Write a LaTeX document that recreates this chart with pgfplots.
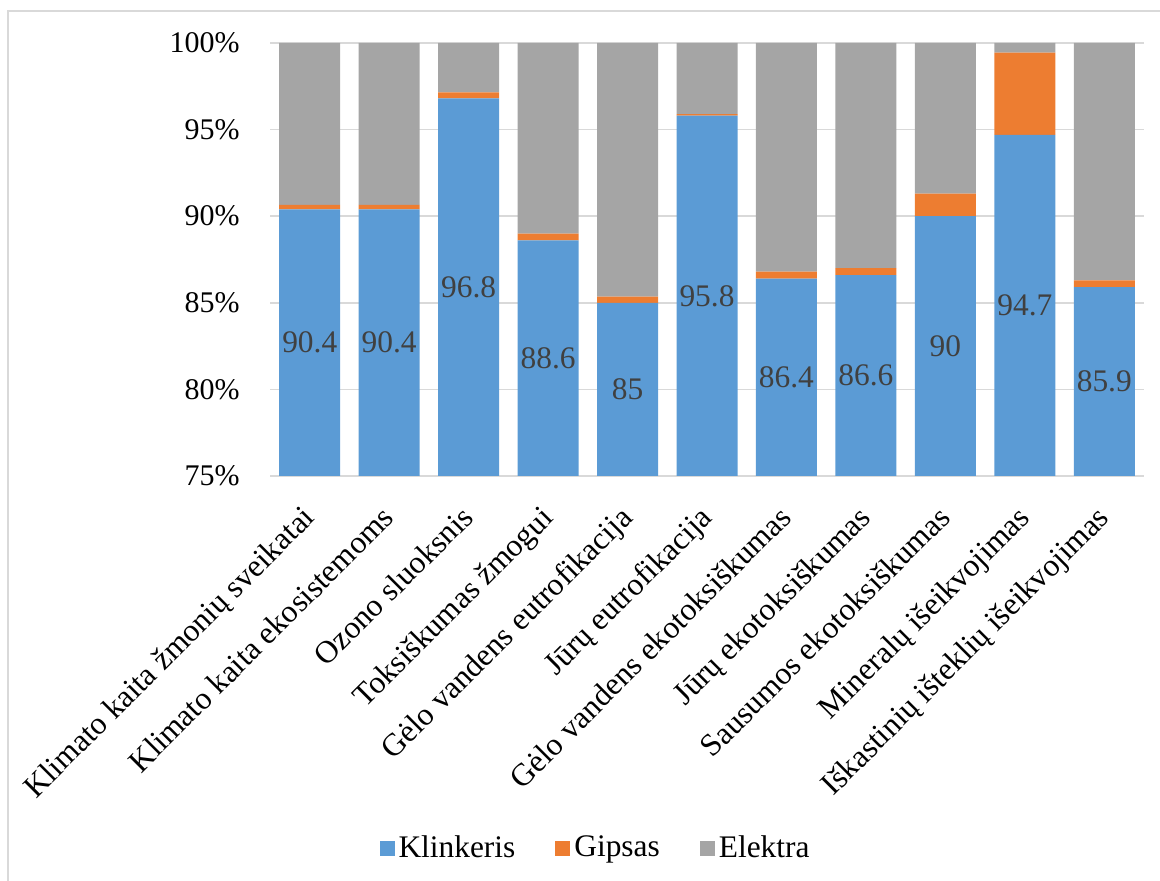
\documentclass[border=0pt]{standalone}
\usepackage{fontspec}
\setmainfont{Liberation Serif}
\usepackage{pgfplots}
\pgfplotsset{compat=1.18}
\definecolor{cK}{HTML}{5B9BD5}
\definecolor{cG}{HTML}{ED7D31}
\definecolor{cE}{HTML}{A5A5A5}
\definecolor{gridc}{HTML}{D9D9D9}
\definecolor{lblc}{HTML}{404040}
\pgfplotsset{
  commonaxis/.style={
    at={(135pt,202.5pt)}, anchor=south west,
    scale only axis, width=437pt, height=216.5pt,
    xmin=-0.5, xmax=10.5, ymin=75, ymax=100,
  }
}
\begin{document}
\fontsize{15pt}{18pt}\selectfont
\begin{tikzpicture}
\useasboundingbox (0pt,0pt) rectangle (580pt,440.5pt);
\draw[gridc, line width=0.75pt] (4pt,-10pt) -- (4pt,435pt) -- (590pt,435pt);
\begin{axis}[
  commonaxis,
  ybar stacked, bar width=30.5pt,
  xtick={0,...,10},
  xticklabels={Klimato kaita žmonių sveikatai, Klimato kaita ekosistemoms, Ozono sluoksnis, Toksiškumas žmogui, Gėlo vandens eutrofikacija, Jūrų eutrofikacija, Gėlo vandens ekotoksiškumas, Jūrų ekotoksiškumas, Sausumos ekotoksiškumas, Mineralų išeikvojimas, Iškastinių išteklių išeikvojimas},
  xticklabel style={rotate=45, anchor=north east, inner sep=0pt, xshift=-13pt, yshift=-6.5pt, font=\fontsize{15.8pt}{18pt}\selectfont},
  ytick={75,80,...,100},
  yticklabel={\pgfmathprintnumber{\tick}\%},
  yticklabel style={anchor=east, inner sep=0pt, xshift=-15pt, font=\fontsize{15pt}{18pt}\selectfont},
  /pgf/number format/assume math mode=true,
  ymajorgrids, grid style={gridc, line width=0.75pt},
  axis line style={draw=none},
  major tick length=0pt,
  legend columns=-1,
  legend style={draw=none, fill=none, at={(0.3736,-0.861)}, anchor=center, font=\fontsize{15.7pt}{18pt}\selectfont, inner sep=0pt,
    /tikz/every even column/.append style={column sep=18pt}},
  legend image code/.code={\fill[#1] (0pt,-3.75pt) rectangle (7.5pt,3.75pt);},
]
\addplot[fill=cK, draw=none]
  coordinates {(0,90.4) (1,90.4) (2,96.8) (3,88.6) (4,85) (5,95.8) (6,86.4) (7,86.6) (8,90) (9,94.7) (10,85.9)};
\addlegendentry{Klinkeris}
\addplot[fill=cG, draw=none]
  coordinates {(0,0.25) (1,0.25) (2,0.35) (3,0.4) (4,0.35) (5,0.1) (6,0.4) (7,0.4) (8,1.3) (9,4.75) (10,0.4)};
\addlegendentry{Gipsas}
\addplot[fill=cE, draw=none]
  coordinates {(0,9.35) (1,9.35) (2,2.85) (3,11.0) (4,14.65) (5,4.1) (6,13.2) (7,13.0) (8,8.7) (9,0.55) (10,13.7)};
\addlegendentry{Elektra}
\end{axis}
\begin{axis}[
  commonaxis,
  hide axis,
]
\addplot[draw=none, mark=none, nodes near coords, point meta=explicit symbolic,
  every node near coord/.style={anchor=center, text=lblc, inner sep=0pt, font=\fontsize{15.7pt}{18pt}\selectfont}]
  coordinates {(0,82.7) [90.4] (1,82.7) [90.4] (2,85.9) [96.8] (3,81.8) [88.6] (4,80) [85] (5,85.4) [95.8] (6,80.7) [86.4] (7,80.8) [86.6] (8,82.5) [90] (9,84.85) [94.7] (10,80.45) [85.9]};
\end{axis}
\end{tikzpicture}
\end{document}
